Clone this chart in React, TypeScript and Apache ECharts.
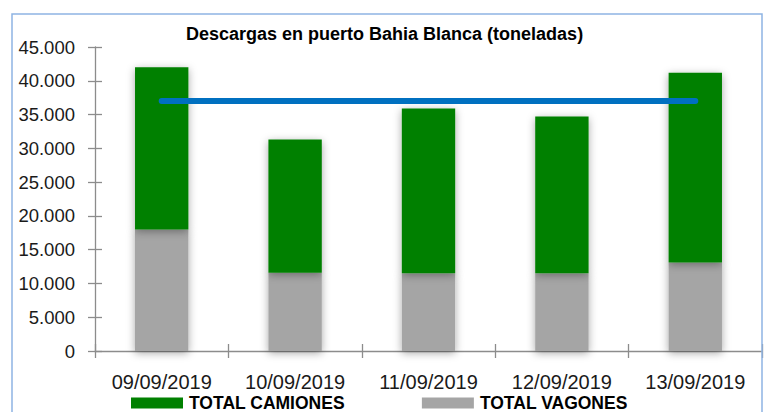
import React, { useEffect, useRef } from "react";
import * as echarts from "echarts";

const categories = ["09/09/2019", "10/09/2019", "11/09/2019", "12/09/2019", "13/09/2019"];
const totalVagones = [18000, 11600, 11500, 11500, 13100];
const totalCamiones = [24000, 19700, 24400, 23200, 28100];
const promedio = [37020, 37020, 37020, 37020, 37020];

const FONT = "'Liberation Sans', Arial, sans-serif";

export default function App() {
  const ref = useRef<HTMLDivElement>(null);
  useEffect(() => {
    document.body.style.margin = "0";
    const chart = echarts.init(ref.current!, null, { renderer: "svg" });
    const fmt = (v: number) => (v === 0 ? "0" : v.toLocaleString("de-DE"));
    const yCommon = { type: "value", min: 0, max: 45000, interval: 5000 };
    chart.setOption({
      animation: false,
      backgroundColor: "#ffffff",
      textStyle: { fontFamily: FONT },
      title: {
        text: "Descargas en puerto Bahia Blanca (toneladas)",
        left: 186,
        top: 25,
        padding: 0,
        textStyle: { fontFamily: FONT, fontSize: 18, fontWeight: "bold", color: "#000000" },
      },
      legend: {
        data: ["TOTAL CAMIONES", "TOTAL VAGONES"],
        left: 131,
        top: 394,
        padding: 0,
        itemWidth: 52,
        itemHeight: 11,
        itemGap: 77,
        icon: "rect",
        textStyle: { fontFamily: FONT, fontSize: 17.5, fontWeight: "bold", color: "#000000", padding: [0, 0, 0, 1] },
      },
      graphic: [
        {
          type: "rect",
          shape: { x: 12, y: 14, width: 750, height: 420 },
          style: { fill: "none", stroke: "#8EB4E3", lineWidth: 1.5 },
          z: 100,
        },
      ],
      grid: { left: 95, right: 5, top: 47, bottom: 61, containLabel: false },
      xAxis: [
        {
          type: "category",
          data: categories,
          axisLine: { lineStyle: { color: "#8C8C8C", width: 1.3 } },
          axisTick: { show: true, length: 7, inside: false, lineStyle: { color: "#8C8C8C", width: 1.3 } },
          axisLabel: { fontFamily: FONT, fontSize: 20, color: "#1a1a1a", margin: 21 },
        },
        {
          type: "category",
          data: categories,
          position: "bottom",
          axisLine: { show: false },
          axisTick: { show: true, length: 7, inside: true, lineStyle: { color: "#8C8C8C", width: 1.3 } },
          axisLabel: { show: false },
        },
      ],
      yAxis: [
        {
          ...yCommon,
          axisLine: { show: true, lineStyle: { color: "#8C8C8C", width: 1.3 } },
          axisTick: { show: true, length: 7, inside: false, lineStyle: { color: "#8C8C8C", width: 1.3 } },
          splitLine: { show: false },
          axisLabel: { fontFamily: FONT, fontSize: 18.5, color: "#1a1a1a", margin: 20, formatter: fmt },
        },
        {
          ...yCommon,
          position: "left",
          axisLine: { show: false },
          axisTick: { show: true, length: 7, inside: true, lineStyle: { color: "#8C8C8C", width: 1.3 } },
          splitLine: { show: false },
          axisLabel: { show: false },
        },
      ],
      series: [
        {
          name: "TOTAL VAGONES",
          type: "bar",
          stack: "total",
          data: totalVagones,
          barWidth: "40%",
          itemStyle: {
            color: "#A5A5A5",
            shadowBlur: 8,
            shadowColor: "rgba(0,0,0,0.35)",
            shadowOffsetY: 2,
          },
        },
        {
          name: "TOTAL CAMIONES",
          type: "bar",
          stack: "total",
          data: totalCamiones,
          barWidth: "40%",
          itemStyle: {
            color: "#008000",
            shadowBlur: 8,
            shadowColor: "rgba(0,0,0,0.35)",
            shadowOffsetY: 2,
          },
        },
        {
          name: "PROMEDIO",
          type: "line",
          data: promedio,
          symbol: "none",
          lineStyle: { color: "#0070C0", width: 6, cap: "round" },
          z: 5,
        },
      ],
    });
    return () => chart.dispose();
  }, []);
  return <div ref={ref} style={{ width: 767, height: 412 }} />;
}
